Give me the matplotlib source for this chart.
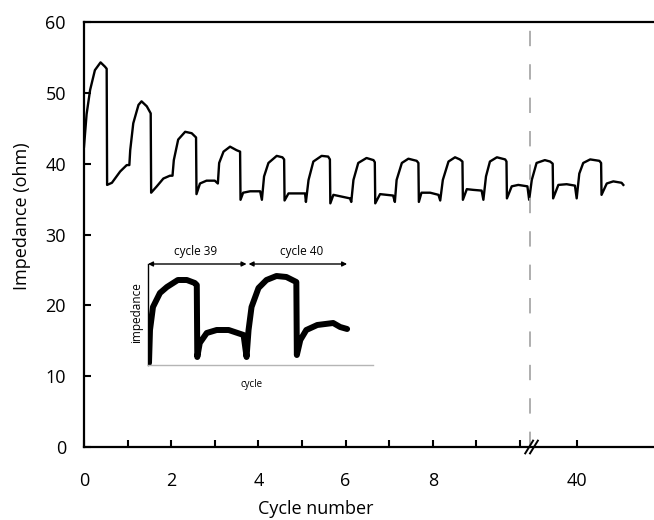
import numpy as np
import matplotlib
matplotlib.use("Agg")
import matplotlib.pyplot as plt

plt.rcParams['font.family'] = ['Open Sans', 'DejaVu Sans']

# cycles 0-10 (cycle number, impedance in ohm)
cyc_a = [0.00, 0.06, 0.14, 0.25, 0.38, 0.48, 0.52, 0.53, 0.64, 0.83, 0.98,
         1.04, 1.06, 1.13, 1.25, 1.32, 1.44, 1.53, 1.54, 1.67, 1.82,
         1.97, 2.03, 2.06, 2.16, 2.32, 2.47, 2.57, 2.58, 2.66, 2.81,
         3.00, 3.07, 3.10, 3.20, 3.35, 3.50, 3.58, 3.59, 3.65, 3.81,
         4.04, 4.08, 4.13, 4.23, 4.42, 4.55, 4.59, 4.60, 4.69, 5.07,
         5.09, 5.15, 5.26, 5.45, 5.60, 5.64, 5.65, 5.72, 6.10, 6.13,
         6.18, 6.29, 6.48, 6.64, 6.67, 6.68, 6.79, 7.09, 7.13, 7.17,
         7.29, 7.44, 7.63, 7.67, 7.68, 7.74, 7.94, 8.13, 8.17, 8.23,
         8.36, 8.51, 8.62, 8.68, 8.69, 8.78, 8.93, 9.12, 9.16, 9.22,
         9.31, 9.47, 9.66, 9.69, 9.70, 9.81, 9.96, 10.17, 10.21]
imp_a = [42.4, 47.0, 50.4, 53.2, 54.3, 53.7, 53.4, 37.0, 37.3, 38.9, 39.8,
         39.8, 41.9, 45.7, 48.3, 48.8, 48.1, 47.1, 35.9, 36.8, 37.9,
         38.3, 38.3, 40.5, 43.4, 44.5, 44.3, 43.7, 35.7, 37.2, 37.6,
         37.6, 37.2, 40.1, 41.7, 42.4, 41.9, 41.7, 34.9, 35.9, 36.1,
         36.1, 34.9, 38.2, 40.1, 41.1, 40.9, 40.6, 34.8, 35.8, 35.8,
         34.6, 37.7, 40.3, 41.1, 41.0, 40.6, 34.4, 35.6, 35.1, 34.6,
         37.7, 40.1, 40.8, 40.5, 40.2, 34.4, 35.7, 35.5, 34.6, 37.7,
         40.1, 40.7, 40.4, 40.1, 34.6, 35.9, 35.9, 35.6, 34.8, 37.7,
         40.3, 40.9, 40.6, 40.3, 34.9, 36.4, 36.3, 36.2, 34.9, 38.2,
         40.3, 40.9, 40.6, 40.3, 35.1, 36.8, 37.0, 36.8, 34.9]

# cycles 39-41
cyc_b = [38.97, 39.08, 39.27, 39.39, 39.45, 39.46, 39.58, 39.77, 39.96, 40.00,
         40.06, 40.15, 40.31, 40.52, 40.56, 40.57, 40.69, 40.84, 41.03, 41.07]
imp_b = [37.7, 40.1, 40.5, 40.3, 40.0, 35.1, 37.0, 37.1, 36.9, 35.1,
         38.6, 40.1, 40.6, 40.4, 40.1, 35.6, 37.2, 37.5, 37.3, 37.0]

# inset: cycles 39 and 40 (arbitrary units)
ins_t = [0.01, 0.02, 0.05, 0.12, 0.19, 0.30, 0.39, 0.47, 0.49, 0.495,
         0.52, 0.59, 0.69, 0.81, 0.96, 0.99, 1.01, 1.04, 1.11, 1.19,
         1.29, 1.39, 1.49, 1.495, 1.53, 1.59, 1.70, 1.86, 1.93, 2.00]
ins_z = [0.2, 3.5, 5.8, 7.2, 7.8, 8.5, 8.5, 8.2, 8.0, 0.8,
         2.2, 3.2, 3.5, 3.5, 3.0, 0.8, 3.5, 5.8, 7.7, 8.5,
         8.9, 8.8, 8.3, 1.0, 2.5, 3.5, 4.0, 4.2, 3.8, 3.6]

x_ticklabels = ['0', '', '2', '', '4', '', '6', '', '8', '', '', '40']
y_ticks = [0, 10, 20, 30, 40, 50, 60]

shift = 28.7      # gap removed from the broken x axis
break_x = 10.23

W, H = 654, 520
fig = plt.figure(figsize=(W / 100, H / 100), dpi=100)
ax = fig.add_axes([84 / W, 1 - 447 / H, 1 - 84 / W, (447 - 22) / H])

x_all = np.concatenate([cyc_a, np.array(cyc_b) - shift])
y_all = np.concatenate([imp_a, imp_b])
ax.plot(x_all, y_all, color='black', lw=1.7, solid_joinstyle='round')

# dashed marker where the axis is broken
ax.axvline(break_x, color='#a8a8a8', lw=1.3, dashes=(8.5, 10))
for dx in (0.0, 0.11):
    ax.plot([10.12 + dx, 10.30 + dx], [-0.9, 0.9], color='black', lw=1.4,
            clip_on=False, zorder=5)

ax.set_xlim(0, (W - 84) / 43.6)
ax.set_ylim(0, 60)
ax.set_xticks(list(range(11)) + [40 - shift])
ax.set_xticklabels(x_ticklabels)
ax.set_yticks(y_ticks)
ax.tick_params(direction='in', length=5, width=1.5, labelsize=13)
ax.tick_params(axis='y', pad=13)
ax.tick_params(axis='x', pad=18)
ax.spines['right'].set_visible(False)
for s in ('left', 'bottom', 'top'):
    ax.spines[s].set_linewidth(1.6)

fig.text(22 / W, 1 - 216 / H, 'Impedance (ohm)', rotation=90,
         ha='center', va='center', fontsize=13)
fig.text(316 / W, 1 - 509 / H, 'Cycle number', ha='center', va='center',
         fontsize=13)

# inset sketch of two cycles
ins = fig.add_axes([148 / W, 1 - 365 / H, 225 / W, 120 / H])
ins.patch.set_alpha(0)
ins.plot(ins_t, ins_z, color='black', lw=4.3, solid_joinstyle='round',
         solid_capstyle='round')
ins.set_xlim(0, 2.26)
ins.set_ylim(0, 12)
ins.set_xticks([])
ins.set_yticks([])
ins.spines['top'].set_visible(False)
ins.spines['right'].set_visible(False)
ins.spines['bottom'].set_color('#b5b5b5')
ins.spines['bottom'].set_linewidth(1.0)
ins.spines['left'].set_linewidth(1.0)
ins.spines['left'].set_bounds(0, 10.1)

for x0, x1, lab, xl in [(0.0, 0.99, 'cycle 39', 0.48), (1.01, 2.0, 'cycle 40', 1.54)]:
    ins.annotate('', xy=(x1, 10.1), xytext=(x0, 10.1),
                 arrowprops=dict(arrowstyle='<|-|>', color='black', lw=1.0,
                                 mutation_scale=7, shrinkA=0, shrinkB=0))
    ins.text(xl, 11.3, lab, ha='center', va='center', fontsize=8.5)

ins.text(-0.11, 5.2, 'impedance', rotation=90, ha='center', va='center',
         fontsize=8.5)
ins.text(1.04, -1.9, 'cycle', ha='center', va='center', fontsize=7)

fig.savefig('out.png', dpi=100)
